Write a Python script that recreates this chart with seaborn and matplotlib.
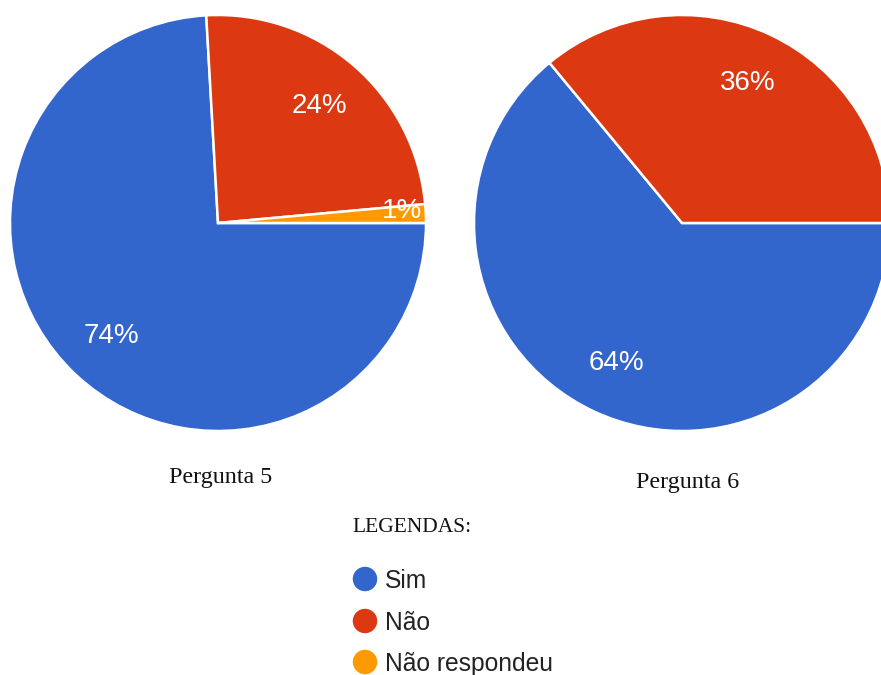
import matplotlib
matplotlib.use("Agg")
import matplotlib.pyplot as plt
import seaborn as sns
import pandas as pd
import numpy as np

# Survey answers (percent of respondents)
categories = ["Sim", "Não", "Não respondeu"]
pergunta5 = [74.1, 24.45, 1.45]
pergunta6 = [64.0, 36.0, 0.0]
titles = ["Pergunta 5", "Pergunta 6"]
legend_title = "LEGENDAS:"

sns.set_theme(style="white")
palette = sns.color_palette(["#3366CC", "#DC3912", "#FF9900"])
plt.rcParams["font.family"] = ["Liberation Sans", "DejaVu Sans"]

W, H = 881, 675
fig = plt.figure(figsize=(W / 100, H / 100), dpi=100)
fig.patch.set_facecolor("white")


def box(cx, cy, r):
    """Axes rectangle (figure fraction) for a pie centred at pixel (cx, cy)."""
    return [(cx - r) / W, 1 - (cy + r) / H, 2 * r / W, 2 * r / H]


def draw_pie(values, cx, cy, r):
    ax = fig.add_axes(box(cx, cy, r))
    vals = [v for v in values if v > 0]
    cols = [palette[i] for i, v in enumerate(values) if v > 0]
    wedges, texts, autotexts = ax.pie(
        vals, colors=cols, startangle=0, counterclock=False,
        autopct="%.0f%%", pctdistance=0.745, radius=1,
        wedgeprops=dict(edgecolor="white", linewidth=1.8),
        textprops=dict(color="white", fontsize=20),
    )
    ax.set_xlim(-1, 1)
    ax.set_ylim(-1, 1)
    ax.set_aspect("equal")
    ax.axis("off")
    # tiny slice: push its label outward so it sits inside the thin wedge
    for w, t, v in zip(wedges, autotexts, vals):
        if v < 3:
            ang = np.deg2rad((w.theta1 + w.theta2) / 2)
            t.set_position((0.885 * np.cos(ang), 0.885 * np.sin(ang) + 0.015))
    return ax


draw_pie(pergunta5, 218, 223, 208)
draw_pie(pergunta6, 682, 223, 208)

serif = ["Liberation Serif", "DejaVu Serif"]
fig.text(221 / W, 1 - 483 / H, titles[0], ha="center", va="baseline",
         fontsize=17.3, family=serif, color="#111111")
fig.text(688 / W, 1 - 488 / H, titles[1], ha="center", va="baseline",
         fontsize=17.3, family=serif, color="#111111")
fig.text(352 / W, 1 - 532 / H, legend_title, ha="left", va="baseline",
         fontsize=15.5, family=serif, color="#111111")

# Legend drawn in a pixel-space overlay
lax = fig.add_axes([0, 0, 1, 1])
leg = pd.DataFrame({"x": [365, 365, 365], "y": [579, 621, 662],
                    "cat": categories})
sns.scatterplot(data=leg, x="x", y="y", hue="cat", palette=palette,
                s=310, linewidth=0, legend=False, ax=lax)
lax.set_xlim(0, W)
lax.set_ylim(H, 0)
lax.axis("off")
for (_, row) in leg.iterrows():
    lax.text(385, row["y"] + 8.5, row["cat"], ha="left", va="baseline",
             fontsize=17.7, color="#222222")

fig.savefig("out.png", dpi=100, facecolor="white")
